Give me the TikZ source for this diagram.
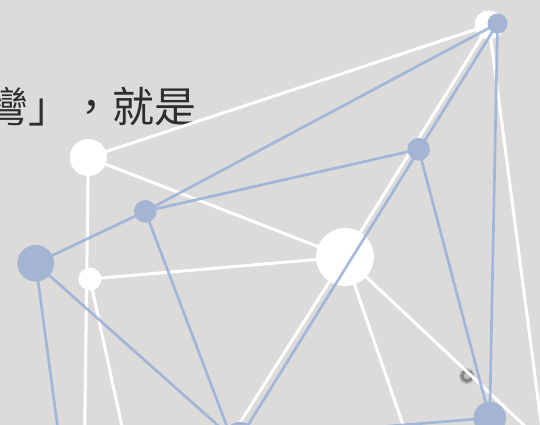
\documentclass[tikz,border=0pt]{standalone}
\usepackage{fontspec}
\newfontfamily\cjk{Noto Sans CJK TC}
\definecolor{bg}{RGB}{221,219,217}
\definecolor{nodeblue}{RGB}{164,180,211}
\definecolor{lineblue}{RGB}{152,176,218}
\definecolor{txt}{RGB}{45,45,45}
\tikzset{
  wline/.style={draw=white,line width=3pt},
  bline/.style={draw=lineblue,line width=2.7pt,opacity=0.85},
  wdot/.style={circle,fill=white,inner sep=0pt,minimum size=#1},
  bdot/.style={circle,fill=nodeblue,inner sep=0pt,minimum size=#1},
}
\begin{document}
\begin{tikzpicture}[x=1pt,y=-1pt]
\useasboundingbox (0,0) rectangle (540,425);
\clip (0,0) rectangle (540,425);
\fill[bg] (0,0) rectangle (540,425);
% smudge
\fill[black!60,opacity=0.25] (467,376) circle (8);
\draw[draw=black!75,line width=3pt,opacity=0.45] (467,376) circle (5);

\node[anchor=base west,inner sep=0pt,text=txt,font=\cjk\fontsize{42}{50}\selectfont] (title) at (-14,122) {彎」，就是};

% coordinates
\coordinate (W1) at (88.3,157.5);
\coordinate (W2) at (90,279);
\coordinate (W3) at (345,257);
\coordinate (W4) at (489,25);
\coordinate (W4b) at (497.5,23.5);
\coordinate (B1) at (145.3,211.3);
\coordinate (B2) at (35.7,263.3);
\coordinate (B3) at (418.7,149.3);
\coordinate (B4) at (489.7,418);
\coordinate (B5) at (240,438);
\coordinate (B5l) at (231,437);
\coordinate (B5w) at (229,440);
\coordinate (e1) at (84.5,445);
\coordinate (e2) at (126,445);
\coordinate (e3) at (60,445);
\coordinate (e4) at (410,445);
\coordinate (e5) at (545,445);
\coordinate (e6) at (544,445);

% white lines
\draw[wline] (W4) -- (W1);
\draw[wline] (W1) -- (W3);
\draw[wline] (W1) -- (e1);
\draw[wline] (W2) -- (W3);
\draw[wline] (W2) -- (e2);
\draw[wline] (W4) -- (W3);
\draw[wline] (W3) -- (B5w);
\draw[wline] (W3) -- (e4);
\draw[wline] (W3) -- (e5);
\draw[wline] (W4) -- (e6);

% white nodes
\node[wdot=37pt] (n1) at (W1) {};
\node[wdot=23pt] (n2) at (W2) {};
\node[wdot=58pt] (n3) at (W3) {};
\node[wdot=29pt] (n4) at (W4) {};

% blue lines
\draw[bline] (W4b) -- (B1);
\draw[bline] (W4b) -- (B5);
\draw[bline] (B3) -- (B1);
\draw[bline] (B3) -- (B4);
\draw[bline] (W4b) -- (B4);
\draw[bline] (B1) -- (B2);
\draw[bline] (B1) -- (B5l);
\draw[bline] (B2) -- (B5l);
\draw[bline] (B2) -- (e3);
\draw[bline] (B4) -- (B5);

% blue nodes
\node[bdot=20pt] (m4) at (W4b) {};
\node[bdot=22.6pt] (m1) at (B1) {};
\node[bdot=36.6pt] (m2) at (B2) {};
\node[bdot=22.6pt] (m3) at (B3) {};
\node[bdot=32.6pt] (m5) at (B4) {};
\node[bdot=32pt] (m6) at (B5) {};
\end{tikzpicture}
\end{document}
